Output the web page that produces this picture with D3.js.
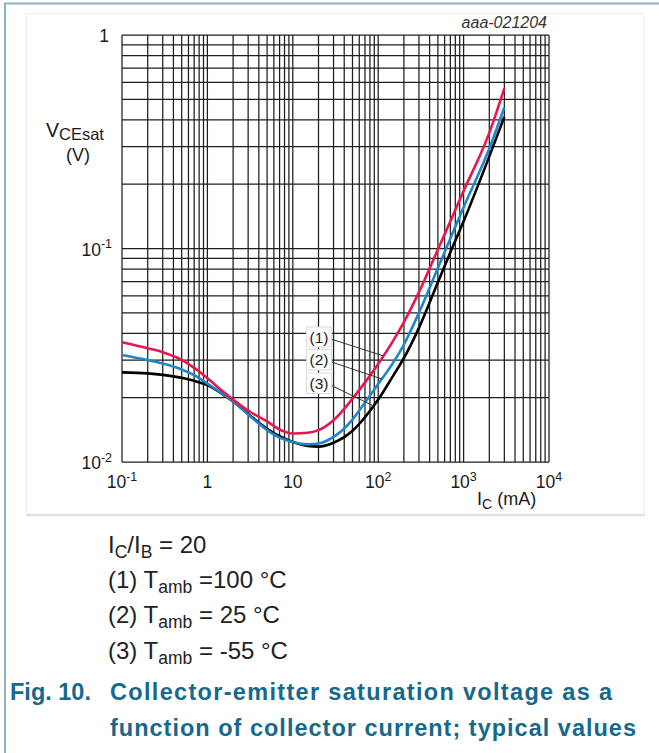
<!DOCTYPE html>
<html>
<head>
<meta charset="utf-8">
<script src="https://cdn.jsdelivr.net/npm/d3@7"></script>
<style>
  body { margin: 0; background: #fff; }
  svg { display: block; font-family: "Liberation Sans", Arial, sans-serif; }
</style>
</head>
<body>
<svg id="chart" width="659" height="753"></svg>
<script>
// Collector current (mA) at which each curve is sampled
const currents = [0.1, 0.2, 0.3, 0.5, 0.7, 1, 1.5, 2, 3, 5, 7, 10, 15, 20, 30, 50, 70, 100, 150, 200, 300, 500, 700, 1000, 2000, 3000];
// VCEsat (V) at Tamb = 100 °C
const vce100 = [0.0364, 0.0341, 0.0327, 0.0301, 0.0276, 0.0247, 0.0215, 0.0196, 0.0174, 0.0155, 0.0142, 0.0136, 0.0137, 0.0141, 0.0157, 0.0198, 0.0236, 0.0288, 0.0370, 0.0452, 0.0625, 0.099, 0.134, 0.186, 0.348, 0.563];
// VCEsat (V) at Tamb = 25 °C
const vce25 = [0.0317, 0.0300, 0.0289, 0.0271, 0.0255, 0.0233, 0.0209, 0.0192, 0.0167, 0.0141, 0.0130, 0.0124, 0.0121, 0.0122, 0.0131, 0.0158, 0.0190, 0.0232, 0.0292, 0.0355, 0.0500, 0.081, 0.1115, 0.156, 0.294, 0.458];
// VCEsat (V) at Tamb = -55 °C
const vceMinus55 = [0.0263, 0.0260, 0.0256, 0.0248, 0.0240, 0.0229, 0.0208, 0.0192, 0.0168, 0.0143, 0.0132, 0.0124, 0.0119, 0.0118, 0.0123, 0.0140, 0.0162, 0.0196, 0.0254, 0.0307, 0.0425, 0.0695, 0.096, 0.134, 0.270, 0.414];

const seriesLabels = ["(1)", "(2)", "(3)"];
const seriesColors = ["#e8174f", "#1f87c9", "#000000"];
// current (mA) where each label's leader line meets its curve
const leaderCurrents = [115, 110, 88];

const xTickValues = [0.1, 1, 10, 100, 1000, 10000];
const xTickLabels = [["10", "-1"], ["1", ""], ["10", ""], ["10", "2"], ["10", "3"], ["10", "4"]];
const yTickValues = [1, 0.1, 0.01];
const yTickLabels = [["1", ""], ["10", "-1"], ["10", "-2"]];

const notes = [
  [["I", ""], ["C", "sub"], ["/I", ""], ["B", "sub"], [" = 20", ""]],
  [["(1) T", ""], ["amb", "sub"], [" =100 °C", ""]],
  [["(2) T", ""], ["amb", "sub"], [" = 25 °C", ""]],
  [["(3) T", ""], ["amb", "sub"], [" = -55 °C", ""]]
];
const captionNumber = "Fig. 10.";
const captionLines = ["Collector-emitter saturation voltage as a", "function of collector current; typical values"];
const captionWidths = [502, 526];
const figureId = "aaa-021204";

const svg = d3.select("#chart");

// page frame
svg.append("line").attr("x1", 4).attr("x2", 659).attr("y1", 3.5).attr("y2", 3.5)
  .attr("stroke", "#8cb2bd").attr("stroke-width", 2);
svg.append("line").attr("x1", 5).attr("x2", 5).attr("y1", 3).attr("y2", 753)
  .attr("stroke", "#8cb2bd").attr("stroke-width", 2);
// figure box
svg.append("rect").attr("x", 26.5).attr("y", 13.5).attr("width", 618).attr("height", 501)
  .attr("fill", "none").attr("stroke", "#eeeeee");
svg.append("line").attr("x1", 26).attr("x2", 645).attr("y1", 515).attr("y2", 515)
  .attr("stroke", "#e2e2e2").attr("stroke-width", 2.5);

const plot = { left: 122, right: 549, top: 35, bottom: 462 };
const x = d3.scaleLog().domain([0.1, 10000]).range([plot.left, plot.right]);
const y = d3.scaleLog().domain([0.01, 1]).range([plot.bottom, plot.top]);

// grid
const grid = svg.append("g").attr("stroke", "#1e1e1e").attr("stroke-width", 1.25);
grid.selectAll(".gx").data(x.ticks()).join("line")
  .attr("x1", d => x(d)).attr("x2", d => x(d))
  .attr("y1", plot.top).attr("y2", plot.bottom);
grid.selectAll(".gy").data(y.ticks()).join("line")
  .attr("y1", d => y(d)).attr("y2", d => y(d))
  .attr("x1", plot.left).attr("x2", plot.right);

// tick labels
const xt = svg.append("g").attr("font-size", 17.5).attr("fill", "#1a1a1a").attr("text-anchor", "middle");
xTickValues.forEach((v, i) => {
  const t = xt.append("text").attr("x", x(v)).attr("y", plot.bottom + 26);
  t.append("tspan").text(xTickLabels[i][0]);
  if (xTickLabels[i][1]) t.append("tspan").attr("font-size", 12.5).attr("dy", -7.5).text(xTickLabels[i][1]);
});
const yt = svg.append("g").attr("font-size", 17.5).attr("fill", "#1a1a1a").attr("text-anchor", "end");
yTickValues.forEach((v, i) => {
  const t = yt.append("text").attr("x", i === 0 ? 109 : 112).attr("y", y(v) + 7);
  t.append("tspan").text(yTickLabels[i][0]);
  if (yTickLabels[i][1]) t.append("tspan").attr("font-size", 12.5).attr("dy", -7.5).text(yTickLabels[i][1]);
});

// axis titles
const yTitle = svg.append("text").attr("x", 46).attr("y", 137).attr("font-size", 19.5).attr("fill", "#1a1a1a");
yTitle.append("tspan").text("V");
yTitle.append("tspan").attr("font-size", 16.5).attr("dy", 3).text("CEsat");
svg.append("text").attr("x", 78).attr("y", 161).attr("font-size", 18).attr("fill", "#1a1a1a")
  .attr("text-anchor", "middle").text("(V)");
const xTitle = svg.append("text").attr("x", 477).attr("y", 505).attr("font-size", 18).attr("fill", "#1a1a1a");
xTitle.append("tspan").text("I");
xTitle.append("tspan").attr("font-size", 14).attr("dy", 4).text("C");
xTitle.append("tspan").attr("dy", -4).text(" (mA)");

svg.append("text").attr("x", 547).attr("y", 28).attr("font-size", 16).attr("font-style", "italic")
  .attr("fill", "#333").attr("text-anchor", "end").text(figureId);

// curves
const seriesValues = [vce100, vce25, vceMinus55];
const line = d3.line().x(d => x(d[0])).y(d => y(d[1])).curve(d3.curveMonotoneX);
// draw the coldest curve first so the hotter ones sit on top
[2, 1, 0].forEach(k => {
  const pts = currents.map((c, i) => [c, seriesValues[k][i]]);
  svg.append("path").datum(pts).attr("d", line)
    .attr("fill", "none").attr("stroke", seriesColors[k]).attr("stroke-width", 2.6)
    .attr("stroke-linejoin", "round").attr("stroke-linecap", "butt");
});

// log-log interpolation of a curve value at a given current
function valueAt(k, c) {
  const lc = Math.log10(c);
  for (let i = 0; i < currents.length - 1; i++) {
    const a = Math.log10(currents[i]), b = Math.log10(currents[i + 1]);
    if (lc >= a && lc <= b) {
      const t = (lc - a) / (b - a);
      const va = Math.log10(seriesValues[k][i]), vb = Math.log10(seriesValues[k][i + 1]);
      return Math.pow(10, va + t * (vb - va));
    }
  }
  return seriesValues[k][seriesValues[k].length - 1];
}

// curve labels with leader lines
const boxes = [{ y: 327, h: 20 }, { y: 349.5, h: 20.5 }, { y: 373, h: 20.5 }];
const labels = svg.append("g");
seriesLabels.forEach((lab, k) => {
  const b = boxes[k];
  const c = leaderCurrents[k];
  labels.append("line")
    .attr("x1", 331).attr("y1", b.y + b.h / 2 + 2)
    .attr("x2", x(c)).attr("y2", y(valueAt(k, c)))
    .attr("stroke", "#333").attr("stroke-width", 1);
  labels.append("rect").attr("x", 306.5).attr("y", b.y).attr("width", 25).attr("height", b.h)
    .attr("fill", "#fff").attr("stroke", "#dcdcdc").attr("stroke-width", 1);
  labels.append("text").attr("x", 319).attr("y", b.y + 15.5).attr("font-size", 15.5)
    .attr("text-anchor", "middle").attr("fill", "#1a1a1a").text(lab);
});

// conditions
const noteBaselines = [553, 588, 623, 659];
notes.forEach((parts, i) => {
  const t = svg.append("text").attr("x", 108).attr("y", noteBaselines[i]).attr("font-size", 24).attr("fill", "#222");
  let shifted = false;
  parts.forEach(([txt, kind]) => {
    const s = t.append("tspan").text(txt);
    if (kind === "sub") {
      s.attr("font-size", 17.5).attr("dy", shifted ? 0 : 5);
      shifted = true;
    } else {
      s.attr("dy", shifted ? -5 : 0);
      shifted = false;
    }
  });
});

// caption
const cap = svg.append("g").attr("font-size", 23.5).attr("font-weight", "bold").attr("fill", "#16698b");
cap.append("text").attr("x", 10).attr("y", 700).text(captionNumber);
captionLines.forEach((ln, i) => {
  cap.append("text").attr("x", 110).attr("y", 700 + i * 36)
    .attr("textLength", captionWidths[i]).attr("lengthAdjust", "spacing").text(ln);
});
</script>
</body>
</html>
